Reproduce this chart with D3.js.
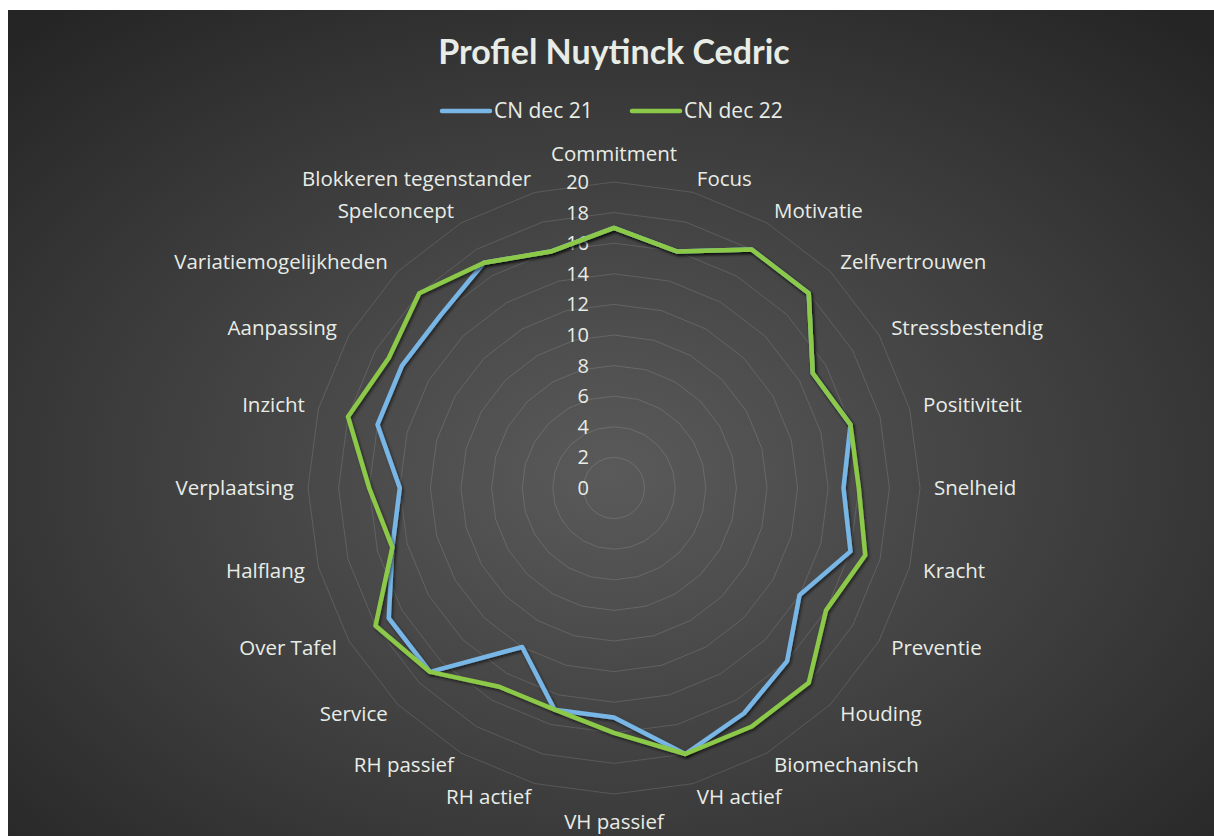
<!DOCTYPE html>
<html>
<head>
<meta charset="utf-8">
<script src="https://cdn.jsdelivr.net/npm/d3@7"></script>
<style>
  body { margin: 0; background: #fff; }
  text { fill: #e8ece6; }
</style>
</head>
<body>
<svg class="chart"></svg>
<script>
var categories = ["Commitment", "Focus", "Motivatie", "Zelfvertrouwen", "Stressbestendig",
  "Positiviteit", "Snelheid", "Kracht", "Preventie", "Houding", "Biomechanisch",
  "VH actief", "VH passief", "RH actief", "RH passief", "Service", "Over Tafel",
  "Halflang", "Verplaatsing", "Inzicht", "Aanpassing", "Variatiemogelijkheden",
  "Spelconcept", "Blokkeren tegenstander"];

var seriesNames = ["CN dec 21", "CN dec 22"];
var dec21 = [17, 16, 18, 18, 15, 16, 15, 16, 14, 16, 17, 18, 15, 15, 12, 17, 17, 15, 14, 16, 16, 16, 17, 16];
var dec22 = [17, 16, 18, 18, 15, 16, 16, 17, 16, 18, 18, 18, 16, 15, 15, 17, 18, 15, 16, 18, 17, 18, 17, 16];
var ticks = [0, 2, 4, 6, 8, 10, 12, 14, 16, 18, 20];

var colors = ["#78b6e6", "#8cc94a"];

var width = 1214, height = 836,
    cx = 614, cy = 488;

var svg = d3.select(".chart")
    .attr("width", width)
    .attr("height", height);

var defs = svg.append("defs");

// dark radial background like the excel style
var grad = defs.append("radialGradient")
    .attr("id", "bg")
    .attr("cx", "50%").attr("cy", "56%").attr("r", "72%");
grad.append("stop").attr("offset", "0%").attr("stop-color", "#5a5a5a");
grad.append("stop").attr("offset", "60%").attr("stop-color", "#3b3b3b");
grad.append("stop").attr("offset", "100%").attr("stop-color", "#252525");

var shadow = defs.append("filter")
    .attr("id", "shadow")
    .attr("x", "-10%").attr("y", "-10%").attr("width", "120%").attr("height", "120%");
shadow.append("feDropShadow")
    .attr("dx", 1.5).attr("dy", 2)
    .attr("stdDeviation", 1.8)
    .attr("flood-color", "#000")
    .attr("flood-opacity", 0.55);

svg.append("rect")
    .attr("x", 8).attr("y", 10)
    .attr("width", width - 8).attr("height", height - 10)
    .attr("fill", "url(#bg)");

// title
svg.append("text")
    .attr("x", cx).attr("y", 52)
    .attr("dy", "0.35em")
    .attr("text-anchor", "middle")
    .style("font-family", "Lato, sans-serif")
    .style("font-weight", "bold")
    .style("font-size", "34px")
    .text("Profiel Nuytinck Cedric");

// legend
var legend = svg.append("g").attr("class", "legend");
var legendX = [442, 632];
seriesNames.forEach(function(name, i) {
  legend.append("line")
      .attr("x1", legendX[i]).attr("x2", legendX[i] + 48)
      .attr("y1", 111).attr("y2", 111)
      .attr("stroke", colors[i])
      .attr("stroke-width", 4.5)
      .attr("stroke-linecap", "round");
  legend.append("text")
      .attr("x", legendX[i] + 52).attr("y", 111)
      .attr("dy", "0.35em")
      .style("font-family", "'Open Sans', sans-serif")
      .style("font-size", "21px")
      .text(name);
});

var r = d3.scaleLinear().domain([0, 20]).range([0, 306]);
var angle = d3.scaleLinear().domain([0, categories.length]).range([0, 2 * Math.PI]);

var g = svg.append("g")
    .attr("transform", "translate(" + cx + "," + cy + ")");

// polygon grid rings
var ring = d3.lineRadial()
    .angle(function(d, i) { return angle(i); })
    .radius(function(d) { return r(d); })
    .curve(d3.curveLinearClosed);

g.selectAll(".ring")
    .data(ticks.slice(1))
    .enter()
    .append("path")
    .attr("class", "ring")
    .attr("d", function(t) { return ring(categories.map(function() { return t; })); })
    .attr("fill", "none")
    .attr("stroke", "rgba(255,255,255,0.13)")
    .attr("stroke-width", 1);

// value axis labels
g.selectAll(".tick")
    .data(ticks)
    .enter()
    .append("text")
    .attr("class", "tick")
    .attr("x", -25)
    .attr("y", function(d) { return -r(d); })
    .attr("dy", "0.35em")
    .attr("text-anchor", "end")
    .style("font-family", "'Open Sans', sans-serif")
    .style("font-size", "20px")
    .text(function(d) { return d; });

// category labels
g.selectAll(".cat")
    .data(categories)
    .enter()
    .append("text")
    .attr("class", "cat")
    .each(function(d, i) {
      var a = angle(i), rr = r(20) + 14;
      var x = rr * Math.sin(a), y = -rr * Math.cos(a);
      var s = Math.sin(a), c = Math.cos(a);
      var anchor = s > 0.01 ? "start" : (s < -0.01 ? "end" : "middle");
      var dy = "0.35em";
      if (anchor === "middle") dy = c > 0 ? "-0.35em" : "1.0em";
      d3.select(this)
        .attr("x", x).attr("y", y)
        .attr("dy", dy)
        .attr("text-anchor", anchor);
    })
    .style("font-family", "'Open Sans', sans-serif")
    .style("font-size", "20.5px")
    .text(function(d) { return d; });

// series lines
var line = d3.lineRadial()
    .angle(function(d, i) { return angle(i); })
    .radius(function(d) { return r(d); })
    .curve(d3.curveLinearClosed);

g.selectAll(".series")
    .data([dec21, dec22])
    .enter()
    .append("path")
    .attr("class", "series")
    .attr("d", line)
    .attr("fill", "none")
    .attr("stroke", function(d, i) { return colors[i]; })
    .attr("stroke-width", 4.5)
    .attr("stroke-linejoin", "round")
    .attr("filter", "url(#shadow)");
</script>
</body>
</html>
